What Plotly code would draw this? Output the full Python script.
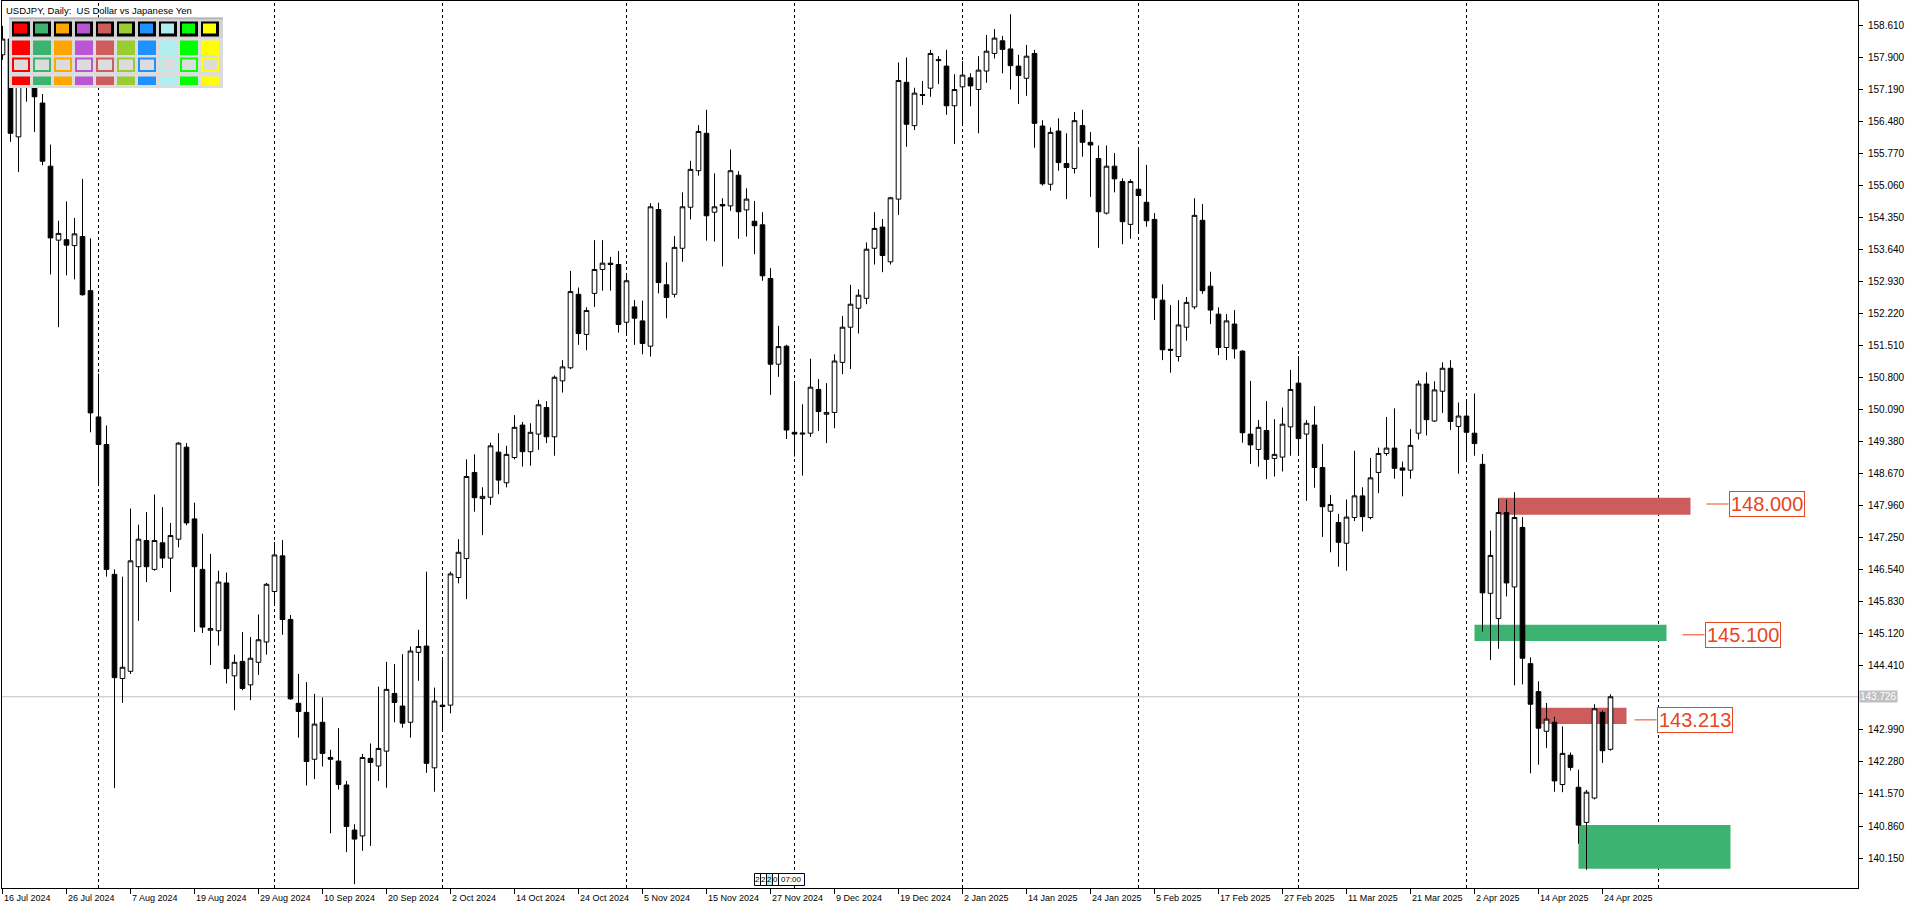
import plotly.graph_objects as go

# ---------------- data (USDJPY daily) ----------------
open_ = [157.96, 158.31, 156.14, 157.35, 157.45, 156.89, 155.49, 153.85, 153.86, 153.73,
         153.93, 152.73, 149.93, 149.32, 146.44, 144.13, 144.29, 146.61, 147.19, 146.55,
         147.14, 146.80, 147.22, 149.26, 147.67, 146.55, 145.20, 145.19, 146.25, 144.19,
         144.51, 143.99, 144.49, 144.94, 146.06, 146.85, 145.44, 143.58, 143.38, 142.34,
         143.16, 142.38, 142.30, 141.77, 140.77, 140.64, 142.36, 142.19, 142.52, 143.80,
         143.52, 143.16, 144.71, 144.85, 142.15, 143.54, 143.54, 146.37, 146.79, 148.70,
         148.12, 148.15, 149.15, 148.47, 149.03, 149.75, 149.16, 149.55, 150.14, 149.49,
         150.73, 151.02, 152.65, 151.76, 152.67, 153.20, 153.34, 153.31, 152.03, 152.37,
         152.06, 151.50, 154.53, 152.86, 152.65, 153.67, 154.58, 155.39, 156.22, 154.47,
         154.64, 154.61, 155.29, 154.52, 154.27, 154.19, 153.00, 151.10, 151.50, 149.59,
         149.55, 149.57, 150.54, 149.99, 150.03, 151.14, 151.92, 152.34, 152.56, 153.67,
         154.14, 153.37, 154.76, 157.35, 156.39, 157.08, 157.22, 157.83, 157.71, 156.83,
         157.25, 157.45, 157.19, 157.60, 157.99, 158.27, 158.09, 157.71, 157.44, 157.99,
         156.38, 155.09, 156.27, 155.55, 155.44, 156.39, 156.02, 155.66, 154.45, 155.49,
         155.15, 154.20, 154.98, 154.69, 154.31, 152.52, 151.43, 151.27, 151.92, 152.37,
         154.29, 152.83, 152.21, 151.47, 151.99, 151.39, 149.55, 149.21, 149.63, 149.01,
         149.04, 149.71, 150.68, 149.55, 149.75, 148.81, 147.84, 147.59, 147.13, 147.70,
         148.18, 147.70, 148.70, 149.12, 149.24, 148.80, 148.75, 149.57, 150.66, 149.84,
         150.50, 151.01, 149.72, 149.95, 149.57, 148.88, 146.02, 145.46, 147.81, 146.16,
         147.48, 144.46, 143.84, 142.96, 143.16, 141.78, 142.43, 141.72, 140.94, 141.48,
         143.38, 142.56]
high = [158.60, 158.58, 157.85, 157.86, 157.70, 157.09, 155.97, 154.28, 154.71, 154.34,
        155.21, 153.89, 150.89, 149.74, 146.55, 146.39, 147.90, 147.54, 147.82, 148.21,
        147.93, 147.58, 149.37, 149.35, 148.03, 147.34, 146.89, 146.52, 146.48, 144.66,
        145.16, 145.05, 145.55, 146.25, 147.16, 147.20, 145.54, 144.23, 144.05, 143.79,
        143.71, 142.55, 143.03, 141.86, 140.90, 142.46, 142.69, 143.95, 144.50, 144.45,
        144.67, 144.84, 145.21, 146.50, 143.93, 144.54, 146.50, 147.22, 148.99, 149.10,
        148.37, 149.36, 149.57, 149.29, 149.97, 149.82, 149.79, 150.31, 150.28, 150.85,
        151.19, 153.17, 152.80, 152.36, 153.85, 153.85, 153.48, 153.61, 153.06, 152.52,
        152.51, 154.67, 154.68, 153.36, 153.94, 154.91, 155.61, 156.40, 156.74, 155.33,
        154.78, 155.86, 155.38, 155.00, 154.72, 154.47, 153.23, 151.95, 151.53, 150.73,
        150.21, 151.22, 150.77, 150.68, 151.32, 152.17, 152.86, 152.76, 153.80, 154.47,
        154.32, 154.81, 157.79, 157.90, 157.23, 157.38, 158.07, 157.93, 158.07, 157.53,
        157.82, 157.55, 157.93, 158.40, 158.53, 158.38, 158.86, 157.96, 158.18, 158.07,
        156.51, 156.35, 156.55, 156.22, 156.69, 156.74, 156.25, 155.95, 155.95, 155.78,
        155.22, 155.20, 155.89, 155.52, 154.45, 152.87, 152.41, 152.52, 152.59, 154.78,
        154.65, 153.15, 152.36, 152.21, 152.30, 151.41, 150.73, 149.86, 150.28, 149.88,
        150.14, 150.97, 151.28, 149.86, 150.17, 149.33, 148.20, 147.78, 148.10, 149.18,
        148.37, 149.02, 149.25, 149.93, 150.12, 148.94, 149.66, 150.74, 150.92, 150.72,
        151.14, 151.19, 150.25, 150.28, 150.45, 149.11, 147.41, 148.12, 148.10, 148.26,
        147.71, 144.60, 144.07, 143.59, 143.28, 143.07, 142.49, 142.11, 141.66, 143.56,
        143.42, 143.78]
low = [157.85, 156.03, 155.36, 156.92, 156.25, 155.51, 153.09, 151.92, 153.07, 152.98,
       152.62, 149.59, 148.43, 146.39, 141.70, 143.59, 144.23, 145.41, 146.27, 146.52,
       146.58, 146.05, 147.04, 147.53, 145.16, 145.14, 144.43, 144.86, 144.02, 143.43,
       143.87, 143.65, 144.21, 144.66, 145.76, 145.10, 143.66, 142.82, 141.76, 141.90,
       142.18, 140.70, 141.67, 140.28, 139.57, 140.31, 140.42, 141.86, 141.71, 143.16,
       143.04, 142.82, 144.08, 142.04, 141.62, 142.95, 143.36, 146.24, 145.89, 147.83,
       147.31, 147.98, 148.22, 148.37, 148.99, 148.83, 148.85, 149.20, 149.35, 149.07,
       150.47, 150.99, 151.53, 151.41, 152.37, 152.73, 152.73, 151.80, 151.77, 151.53,
       151.32, 151.27, 152.67, 152.12, 152.58, 153.37, 154.31, 155.28, 153.84, 153.82,
       153.27, 154.50, 153.88, 153.93, 153.54, 152.95, 150.42, 150.82, 149.44, 149.05,
       148.63, 149.49, 149.62, 149.35, 149.68, 150.88, 150.99, 151.78, 152.43, 153.31,
       153.14, 153.31, 154.41, 155.92, 156.29, 156.85, 157.03, 157.31, 156.63, 155.98,
       156.40, 156.82, 156.22, 157.34, 157.88, 157.55, 157.19, 156.87, 157.05, 155.90,
       155.06, 154.95, 155.39, 154.76, 155.33, 155.70, 154.81, 153.68, 154.42, 154.91,
       153.76, 153.88, 153.99, 154.15, 152.08, 151.19, 150.91, 151.16, 151.62, 152.32,
       152.66, 151.99, 151.30, 151.19, 151.22, 149.36, 148.89, 148.83, 148.55, 148.61,
       148.72, 149.07, 149.07, 148.07, 148.36, 147.27, 146.93, 146.61, 146.52, 147.62,
       147.39, 147.66, 148.24, 149.07, 148.56, 148.17, 148.56, 149.43, 149.52, 149.82,
       150.02, 149.64, 148.67, 148.94, 149.07, 145.17, 144.54, 144.79, 145.95, 143.98,
       144.00, 142.03, 142.22, 142.59, 141.62, 141.61, 142.09, 140.47, 139.89, 141.45,
       142.26, 142.53]
close = [158.31, 156.22, 157.40, 157.45, 157.03, 155.60, 153.90, 154.00, 153.74, 153.99,
         152.64, 150.02, 149.32, 146.55, 144.15, 144.38, 146.74, 147.22, 146.61, 147.19,
         146.80, 147.30, 149.35, 147.58, 146.61, 145.27, 145.24, 146.27, 144.35, 144.49,
         143.91, 144.58, 144.99, 146.22, 146.87, 145.44, 143.68, 143.40, 142.29, 143.12,
         142.47, 142.34, 141.78, 140.85, 140.57, 142.38, 142.27, 142.58, 143.89, 143.60,
         143.14, 144.74, 144.84, 142.25, 143.63, 143.51, 146.45, 146.93, 148.61, 148.14,
         148.17, 149.29, 148.53, 149.10, 149.70, 149.16, 149.59, 150.20, 149.49, 150.81,
         151.04, 152.71, 151.78, 152.29, 153.20, 153.34, 153.31, 151.98, 152.95, 152.12,
         151.56, 154.59, 152.91, 152.58, 153.69, 154.59, 155.42, 156.26, 154.39, 154.59,
         154.61, 155.39, 154.48, 154.76, 154.17, 153.06, 151.10, 151.49, 149.64, 149.55,
         149.57, 150.59, 150.05, 150.03, 151.17, 151.92, 152.43, 152.63, 153.65, 154.11,
         153.51, 154.79, 157.39, 156.42, 157.11, 157.06, 157.99, 157.85, 156.83, 157.19,
         157.51, 157.27, 157.62, 158.04, 158.33, 158.08, 157.72, 157.50, 157.93, 156.44,
         155.10, 156.24, 155.57, 155.46, 156.50, 156.02, 155.96, 154.48, 155.49, 155.21,
         154.26, 155.15, 154.84, 154.28, 152.57, 151.42, 151.41, 151.97, 152.47, 154.40,
         152.73, 152.30, 151.47, 152.06, 151.44, 149.58, 149.31, 149.70, 148.99, 149.10,
         149.77, 150.54, 149.45, 149.79, 148.81, 147.94, 147.99, 147.15, 147.71, 148.18,
         147.72, 148.58, 149.12, 149.24, 148.79, 148.75, 149.30, 150.66, 149.87, 150.53,
         151.01, 149.83, 149.95, 149.59, 149.34, 146.03, 146.86, 147.81, 146.25, 147.70,
         144.58, 143.56, 143.03, 143.23, 141.86, 142.47, 142.16, 140.88, 141.61, 143.46,
         142.53, 143.726]

tick_labels = ["16 Jul 2024", "26 Jul 2024", "7 Aug 2024", "19 Aug 2024", "29 Aug 2024",
               "10 Sep 2024", "20 Sep 2024", "2 Oct 2024", "14 Oct 2024", "24 Oct 2024",
               "5 Nov 2024", "15 Nov 2024", "27 Nov 2024", "9 Dec 2024", "19 Dec 2024",
               "2 Jan 2025", "14 Jan 2025", "24 Jan 2025", "5 Feb 2025", "17 Feb 2025",
               "27 Feb 2025", "11 Mar 2025", "21 Mar 2025", "2 Apr 2025", "14 Apr 2025",
               "24 Apr 2025"]
bars_per_label = 8
month_start_bars = [12, 34, 55, 78, 99, 120, 142, 162, 183, 207]
price_ticks_start = 140.150
price_tick_step = 0.71
price_tick_count = 27
bid_price = 143.726

# zones: (bar_from, bar_to, price_low, price_high, colour)
zones = [(187, 211, 147.76, 148.14, "#CD5C5C"),
         (184, 208, 144.96, 145.32, "#3CB371"),
         (192.33, 203, 143.12, 143.48, "#CD5C5C"),
         (197, 216, 139.91, 140.88, "#3CB371")]
# level labels: (price, line_from_bar, box_left_bar)
levels = [(148.000, 213, 215.75), (145.100, 210, 212.75), (143.213, 204, 206.75)]
level_color = "#E8461E"

palette = ["#FF0000", "#3CB371", "#FFA500", "#BA55D3", "#CD5C5C",
           "#9ACD32", "#1E90FF", "#AFEEEE", "#00FF00", "#FFFF00"]

# small scroll/countdown cells at the bottom of the chart
counter_cells = ["2", "2", "2", "0", "07:00"]
counter_fill = ["white", "white", "#AFEEEE", "white", "white"]
counter_width = [6, 6, 6, 6, 26]

# ---------------- geometry helpers (page pixels -> paper) ----------------
W, H = 1916, 911
ML, MR, MT, MB = 2, 58, 1, 23
PW, PH = W - ML - MR, H - MT - MB


def xp(px):
    return (px - ML) / PW


def yp(py):
    return 1 - (py - MT) / PH


FONT = "Liberation Sans, Arial, sans-serif"

n = len(open_)
fig = go.Figure(go.Candlestick(
    x=list(range(n)), open=open_, high=high, low=low, close=close,
    increasing=dict(line=dict(color="black", width=1), fillcolor="white"),
    decreasing=dict(line=dict(color="black", width=1), fillcolor="black"),
    whiskerwidth=0, showlegend=False, hoverinfo="skip"))

shapes = []
# month separators
for b in month_start_bars:
    shapes.append(dict(type="line", xref="x", yref="paper", x0=b, x1=b, y0=0, y1=1,
                       line=dict(color="black", width=1, dash="3px,3px"), layer="below"))
# bid line
shapes.append(dict(type="line", xref="paper", yref="y", x0=0, x1=1, y0=bid_price, y1=bid_price,
                   line=dict(color="#C0C0C0", width=1), layer="below"))
# zones
for b0, b1, p0, p1, col in zones:
    shapes.append(dict(type="rect", xref="x", yref="y", x0=b0, x1=b1, y0=p0, y1=p1,
                       fillcolor=col, line=dict(width=0), layer="below"))
# level connector lines
for p, b0, b1 in levels:
    shapes.append(dict(type="line", xref="x", yref="y", x0=b0, x1=b1, y0=p, y1=p,
                       line=dict(color=level_color, width=1), layer="above"))


def prect(x0, y0, x1, y1, fill, line_col=None, lw=0):
    shapes.append(dict(type="rect", xref="paper", yref="paper",
                       x0=xp(x0), x1=xp(x1), y0=yp(y1), y1=yp(y0),
                       fillcolor=fill, line=dict(color=line_col or fill, width=lw),
                       layer="above"))


# palette panel (top-left)
prect(9, 17.5, 223, 88, "#DCDCDC")
prect(9, 17.5, 223, 19.5, "#B4B4B4")
prect(9, 19.5, 223, 38, "#D3D3D3")
for k, col in enumerate(palette):
    x0 = 12 + 21 * k
    prect(x0, 21.5, x0 + 18, 36.5, "black")
    prect(x0 + 2, 23.5, x0 + 15, 33.5, col)
    prect(x0, 40.5, x0 + 18, 55, col)
    prect(x0, 57.5, x0 + 18, 72, col)
    prect(x0 + 2, 59.5, x0 + 16, 70, "#DCDCDC")
    prect(x0, 76.5, x0 + 18, 85, col)

annotations = []
# counter cells
cx = 754.5
for txt, fill, wd in zip(counter_cells, counter_fill, counter_width):
    prect(cx, 873.5, cx + wd, 885.5, fill, "black", 1)
    annotations.append(dict(xref="paper", yref="paper", x=xp(cx + wd / 2), y=yp(879.5),
                            xanchor="center", yanchor="middle", text=txt, showarrow=False,
                            borderpad=0, font=dict(family=FONT, size=8, color="black")))
    cx += wd

# title
annotations.append(dict(xref="paper", yref="paper", x=xp(4), y=yp(3), xanchor="left", yanchor="top",
                        text="USDJPY, Daily:\u00a0 US Dollar vs Japanese Yen", showarrow=False,
                        font=dict(family=FONT, size=9.5, color="black")))
# date labels (left aligned after tick)
for k, lab in enumerate(tick_labels):
    annotations.append(dict(xref="x", yref="paper", x=k * bars_per_label, y=0, xanchor="left",
                            yanchor="top", xshift=0, yshift=-4, text=lab, showarrow=False,
                            borderpad=0, font=dict(family=FONT, size=9, color="black")))
# bid price label on axis (hides the regular tick label it sits on)
annotations.append(dict(xref="paper", yref="y", x=1, y=bid_price, xanchor="left", yanchor="middle",
                        xshift=1, text=f"{bid_price:.3f}", showarrow=False, bgcolor="#C0C0C0",
                        borderpad=0, font=dict(family=FONT, size=10, color="white")))
# level labels
for p, b0, b1 in levels:
    annotations.append(dict(xref="x", yref="y", x=b1, y=p, xanchor="left", yanchor="middle",
                            text=f"{p:.3f}", showarrow=False, bgcolor="white",
                            bordercolor=level_color, borderwidth=1, borderpad=1,
                            font=dict(family=FONT, size=20, color=level_color)))

yt_all = [round(price_ticks_start + price_tick_step * k, 3) for k in range(price_tick_count)]
yt = [v for v in yt_all if abs(v - bid_price) > 0.2]

fig.update_layout(
    width=W, height=H, margin=dict(l=ML, r=MR, t=MT, b=MB, pad=0),
    paper_bgcolor="white", plot_bgcolor="white",
    boxgap=0.42, boxgroupgap=0, boxmode="overlay",
    showlegend=False, hovermode=False,
    shapes=shapes, annotations=annotations,
    xaxis=dict(range=[-0.0625, PW / 8 - 0.0625], rangeslider=dict(visible=False),
               showgrid=False, zeroline=False,
               tickvals=[k * bars_per_label for k in range(len(tick_labels))],
               showticklabels=False, ticks="outside", ticklen=5, tickcolor="black", tickwidth=1,
               showline=True, linecolor="black", linewidth=1, mirror=True),
    yaxis=dict(range=[148 - (H - MB - 504) / 45.1, 148 + (504 - MT) / 45.1], side="right",
               tickvals=yt, ticktext=[f"{v:.3f}" for v in yt], ticklabelstandoff=3,
               ticks="outside", ticklen=4, tickcolor="black", showgrid=False, zeroline=False,
               showline=True, linecolor="black", linewidth=1, mirror=True,
               tickfont=dict(family=FONT, size=10, color="black")),
)

fig.write_html("out.html", config={"displayModeBar": False},
               post_script="document.body.style.margin='0px';document.body.style.overflow='hidden';")
